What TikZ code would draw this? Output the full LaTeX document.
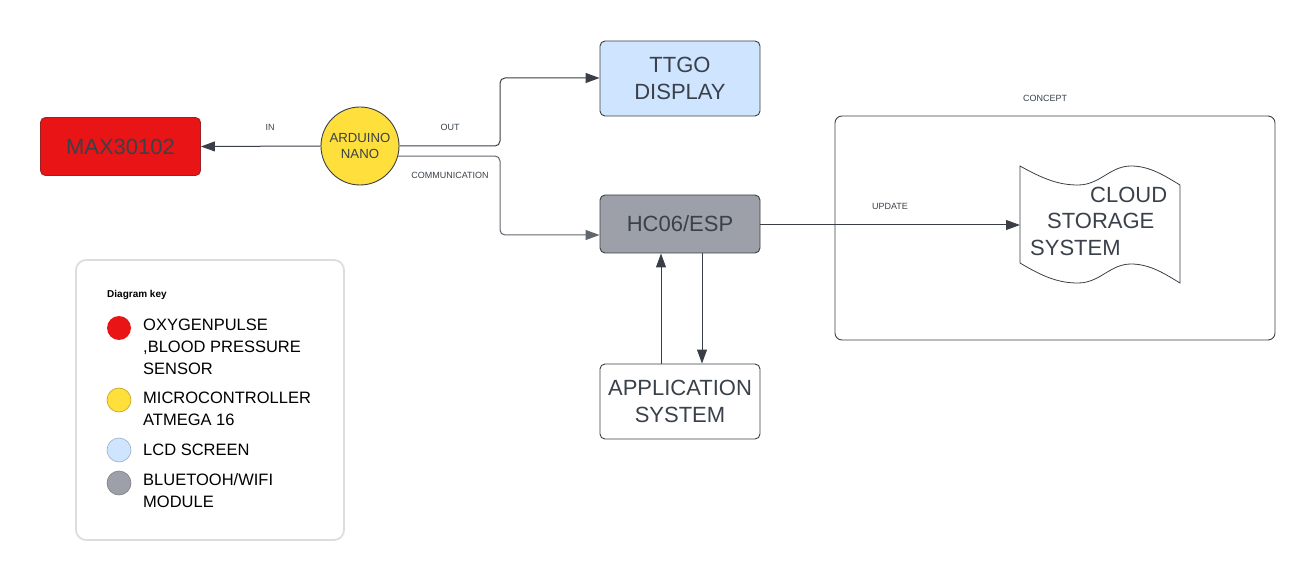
\documentclass[tikz,border=0pt]{standalone}
\usepackage{fontspec}
\setmainfont{Liberation Sans}
\usetikzlibrary{arrows.meta}
\definecolor{txt}{HTML}{3A414A}
\definecolor{ln}{HTML}{3A3F47}
\definecolor{redf}{HTML}{E81416}
\definecolor{redd}{HTML}{9A2226}
\definecolor{yel}{HTML}{FFDF3C}
\definecolor{yeld}{HTML}{BFA020}
\definecolor{blu}{HTML}{CFE4FF}
\definecolor{blud}{HTML}{9AAEC4}
\definecolor{gry}{HTML}{9DA0A8}
\definecolor{keyb}{HTML}{DDDDDD}
\tikzset{
  box/.style={draw=ln, line width=0.9pt, rounded corners=5pt, minimum width=160pt, align=center, text=txt, font=\fontsize{22}{27}\selectfont, inner sep=0pt},
  conn/.style={draw=ln, line width=1pt, -{Triangle[length=14pt,width=10pt]}},
  small/.style={font=\fontsize{9}{11}\selectfont, text=txt, inner sep=0pt},
  keytxt/.style={font=\fontsize{16.5}{22}\selectfont, text=black, anchor=west, align=left, inner sep=0pt},
  keydot/.style={circle, minimum size=24pt, inner sep=0pt},
}
\begin{document}
\begin{tikzpicture}[x=1pt,y=-1pt]
\useasboundingbox (0,0) rectangle (1315,580);

% main nodes
\node[box, fill=redf, draw=redd, minimum height=58pt] (max) at (120.5,146.5) {MAX30102};
\node[circle, draw=ln, line width=0.9pt, fill=yel, minimum size=78pt, inner sep=0pt, align=center, text=txt, font=\fontsize{13.2}{16}\selectfont] (ard) at (360,146) {ARDUINO\\NANO};
\node[box, fill=blu, minimum height=75pt] (ttgo) at (680,78.5) {TTGO\\DISPLAY};
\node[box, fill=gry, minimum height=58pt] (hc) at (680,224) {HC06/ESP};
\node[box, fill=white, minimum height=75pt] (app) at (680,401.5) {APPLICATION\\SYSTEM};

% concept frame
\node[draw=ln, line width=0.9pt, rounded corners=7pt, minimum width=440pt, minimum height=224pt, inner sep=0pt] (concept) at (1055,228) {};
\node[small] (conceptlbl) at (1045,98) {CONCEPT};

% cloud storage tape shape
\draw[draw=ln, line width=0.8pt, fill=white]
  (1020,166) .. controls (1045,180) and (1060,185) .. (1078,185)
  .. controls (1100,185) and (1110,166) .. (1131,166)
  .. controls (1150,166) and (1165,176) .. (1180,185)
  -- (1180,283)
  .. controls (1165,274) and (1150,264) .. (1131,264)
  .. controls (1110,264) and (1100,283) .. (1078,283)
  .. controls (1060,283) and (1045,278) .. (1020,263) -- cycle;
\coordinate (cloudin) at (1020,225);
\node[anchor=west, inner sep=0pt, text=txt, font=\fontsize{22}{26}\selectfont] (c1) at (1090,195) {CLOUD};
\node[anchor=west, inner sep=0pt, text=txt, font=\fontsize{22}{26}\selectfont] (c2) at (1047,221) {STORAGE};
\node[anchor=west, inner sep=0pt, text=txt, font=\fontsize{22}{26}\selectfont] (c3) at (1030,248) {SYSTEM};

% connectors
\draw[conn] (ard.west) -- (max.east);
\node[small] (inlbl) at (270,127) {IN};
\draw[conn, rounded corners=5pt] (ard.east) -- (500,146) -- (500,78) -- (ttgo.west |- 0,78);
\node[small] (outlbl) at (450,127) {OUT};
\draw[conn, draw=ln!80, rounded corners=5pt] (ard.-15) -- (500,156) -- (500,235) -- (hc.west |- 0,235);
\node[small] (commlbl) at (450,175) {COMMUNICATION};
\draw[conn] (app.north -| 661,0) -- (hc.south -| 661,0);
\draw[conn] (hc.south -| 702,0) -- (app.north -| 702,0);
\draw[conn] (hc.east |- 0,225) -- (cloudin);
\node[small] (updlbl) at (890,206) {UPDATE};

% key
\node[draw=keyb, line width=1.8pt, rounded corners=10pt, minimum width=268pt, minimum height=280pt, inner sep=0pt] (key) at (210,400) {};
\node[anchor=west, inner sep=0pt, font=\bfseries\fontsize{10}{12}\selectfont] (keytitle) at (107,295) {Diagram key};
\node[keydot, fill=redf] (k1) at (119,328) {};
\node[keydot, fill=yel, draw=yeld, line width=0.6pt] (k2) at (119,400) {};
\node[keydot, fill=blu, draw=blud, line width=0.6pt] (k3) at (119,450) {};
\node[keydot, fill=gry, draw=gry!80!black, line width=0.6pt] (k4) at (119,483) {};
\node[keytxt, anchor=north west] (t1) at (143,318.5) {OXYGENPULSE\\,BLOOD PRESSURE\\SENSOR};
\node[keytxt, anchor=north west] (t2) at (143,391.5) {MICROCONTROLLER\\ATMEGA 16};
\node[keytxt, anchor=north west] (t3) at (143,443.5) {LCD SCREEN};
\node[keytxt, anchor=north west] (t4) at (143,473.5) {BLUETOOH/WIFI\\MODULE};
\end{tikzpicture}
\end{document}
